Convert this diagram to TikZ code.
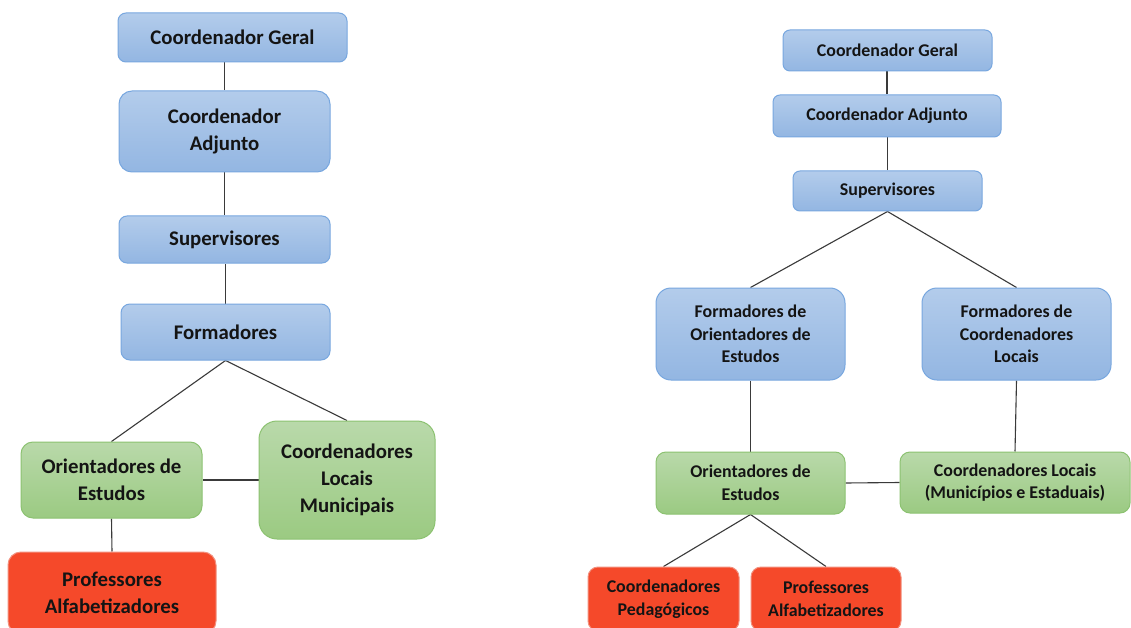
\documentclass[tikz,border=0pt]{standalone}
\usepackage{fontspec}
\setmainfont{Carlito}
\usetikzlibrary{backgrounds}
\definecolor{bluetop}{HTML}{B3CCEB}
\definecolor{bluebot}{HTML}{93B6E2}
\definecolor{blueline}{HTML}{78A7DF}
\definecolor{greentop}{HTML}{B9D9AA}
\definecolor{greenbot}{HTML}{9BCA82}
\definecolor{greenline}{HTML}{8CC271}
\definecolor{redfill}{HTML}{F5492A}
\definecolor{redline}{HTML}{F2907E}
\definecolor{conn}{HTML}{3A3A3A}
\definecolor{txt}{HTML}{141414}
\tikzset{
  box/.style={inner sep=0pt, align=center, text=txt, line width=1pt, font=\bfseries},
  bluebox/.style={box, draw=blueline, top color=bluetop, bottom color=bluebot},
  greenbox/.style={box, draw=greenline, top color=greentop, bottom color=greenbot},
  redbox/.style={box, draw=redline, fill=redfill},
  big/.style={font=\fontsize{20.8}{27}\selectfont\bfseries},
  small/.style={font=\fontsize{17.9}{22.7}\selectfont\bfseries},
  link/.style={draw=conn, line width=1.1pt}
}
\begin{document}
\begin{tikzpicture}[x=1pt,y=-1pt]
\useasboundingbox (0,0) rectangle (1131,628);
\clip (0,0) rectangle (1131,628);
% ---------- left chart ----------
\node[bluebox, big, minimum width=229pt, minimum height=49pt, rounded corners=8pt] (lCG) at (232.5,37.5) {Coordenador Geral};
\node[bluebox, big, minimum width=211pt, minimum height=81pt, rounded corners=13pt] (lCA) at (224.5,131.5) {Coordenador\\Adjunto};
\node[bluebox, big, minimum width=211pt, minimum height=47pt, rounded corners=8pt] (lSup) at (224.5,239.5) {Supervisores};
\node[bluebox, big, minimum width=209pt, minimum height=56pt, rounded corners=9pt] (lF) at (225.5,332) {Formadores};
\node[greenbox, big, minimum width=181pt, minimum height=76pt, rounded corners=12pt] (lOE) at (111.5,480) {Orientadores de\\Estudos};
\node[greenbox, big, minimum width=176pt, minimum height=118pt, rounded corners=18pt] (lCLM) at (347,480) {Coordenadores\\Locais\\Municipais};
\node[redbox, big, minimum width=208pt, minimum height=82pt, rounded corners=13pt] (lPA) at (112,593) {Professores\\Alfabetizadores};
% ---------- right chart ----------
\node[bluebox, small, minimum width=209pt, minimum height=41pt, rounded corners=7pt] (rCG) at (887.5,50.5) {Coordenador Geral};
\node[bluebox, small, minimum width=228pt, minimum height=42pt, rounded corners=7pt] (rCA) at (887,116) {Coordenador Adjunto};
\node[bluebox, small, minimum width=189pt, minimum height=40pt, rounded corners=7pt] (rSup) at (887.5,191) {Supervisores};
\node[bluebox, small, minimum width=189pt, minimum height=92pt, rounded corners=15pt] (rFOE) at (750.5,334) {Formadores de\\Orientadores de\\Estudos};
\node[bluebox, small, minimum width=189pt, minimum height=92pt, rounded corners=15pt] (rFCL) at (1016.5,334) {Formadores de\\Coordenadores\\Locais};
\node[greenbox, small, minimum width=189pt, minimum height=62pt, rounded corners=10pt] (rOE) at (750.5,483) {Orientadores de\\Estudos};
\node[greenbox, small, minimum width=230pt, minimum height=61pt, rounded corners=10pt] (rCL) at (1015,482.5) {Coordenadores Locais\\(Municípios e Estaduais)};
\node[redbox, small, minimum width=151pt, minimum height=64pt, rounded corners=10pt] (rCP) at (663.5,599) {Coordenadores\\Pedagógicos};
\node[redbox, small, minimum width=150pt, minimum height=64pt, rounded corners=10pt] (rPA) at (826,599) {Professores\\Alfabetizadores};
% ---------- connectors ----------
\begin{scope}[on background layer]
\fill[white] (0,0) rectangle (1131,628);
\draw[link] (lCA.north) -- (lCA.north |- lCG.south);
\draw[link] (lSup.north) -- (lSup.north |- lCA.south);
\draw[link] (lF.north) -- (lF.north |- lSup.south);
\draw[link] (lF.south) -- (lOE.north);
\draw[link] (lF.south) -- (lCLM.north);
\draw[link] (lOE.east) -- (lCLM.west);
\draw[link] (lOE.south) -- (lPA.north);
\draw[link] (rCA.north) -- (rCA.north |- rCG.south);
\draw[link] (rSup.north) -- (rSup.north |- rCA.south);
\draw[link] (rSup.south) -- (rFOE.north);
\draw[link] (rSup.south) -- (rFCL.north);
\draw[link] (rFOE.south) -- (rOE.north);
\draw[link] (rFCL.south) -- (rCL.north);
\draw[link] (rOE.east) -- (rCL.west);
\draw[link] (rOE.south) -- (rCP.north);
\draw[link] (rOE.south) -- (rPA.north);
\end{scope}
\end{tikzpicture}
\end{document}
